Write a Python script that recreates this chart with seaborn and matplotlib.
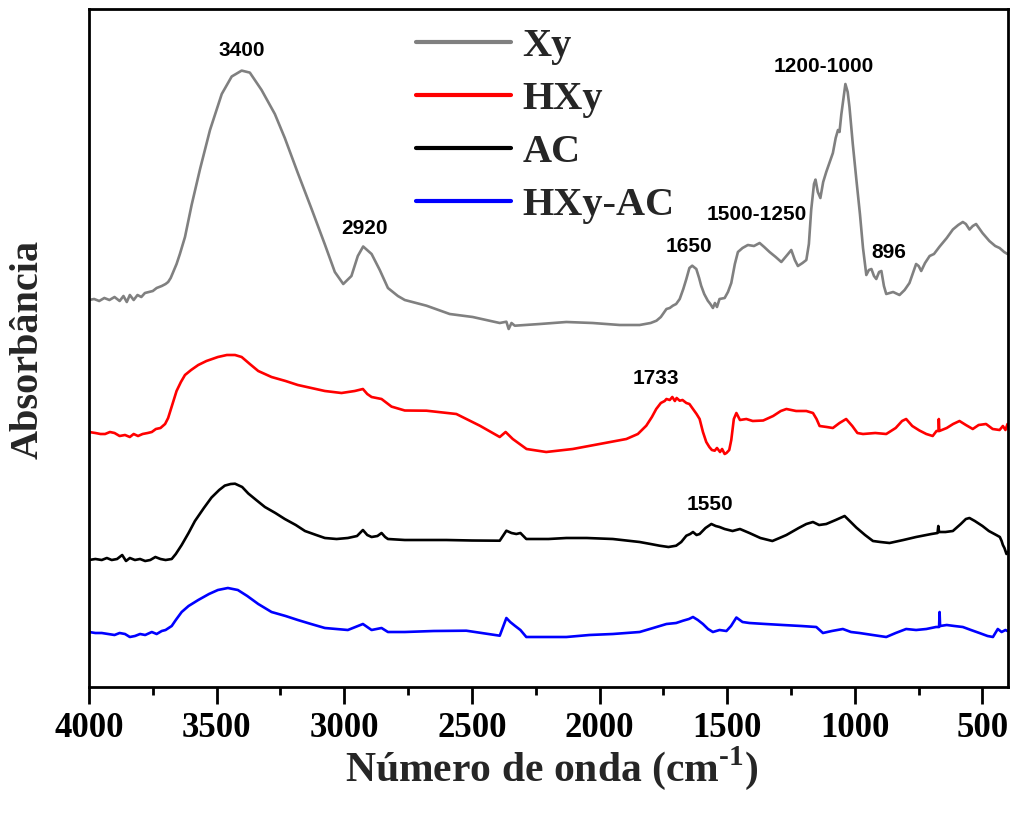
import matplotlib
matplotlib.use("Agg")
import matplotlib.pyplot as plt
from matplotlib.lines import Line2D
from matplotlib.ticker import MultipleLocator
import pandas as pd
import seaborn as sns

# ---------------------------------------------------------------------------
# FTIR spectra (wavenumber in cm-1, absorbance in arbitrary units)
# ---------------------------------------------------------------------------
SAMPLES = ["Xy", "HXy", "AC", "HXy-AC"]
COLORS = ["#808080", "#ff0000", "#000000", "#0000ff"]
# vertical offsets used to stack the spectra
OFFSETS = [3.53, 2.23, 1.23, 0.43]

XY_SPECTRUM = [
    (4000, .34), (3980, .35), (3960, .33), (3940, .36), (3920, .34), (3900, .37),
    (3880, .33), (3865, .38), (3852, .32), (3840, .39), (3825, .34), (3810, .39),
    (3795, .37), (3781, .41), (3765, .42), (3750, .43), (3735, .46), (3715, .48),
    (3700, .50), (3690, .52), (3680, .56), (3670, .62), (3657, .70), (3644, .80),
    (3624, .97), (3598, 1.29), (3565, 1.65), (3526, 2.04), (3480, 2.40), (3441, 2.575),
    (3402, 2.634), (3370, 2.614), (3324, 2.44), (3272, 2.20), (3233, 1.96), (3182, 1.61),
    (3128, 1.25), (3076, .895), (3037, .62), (3004, .50), (2972, .58), (2947, .78),
    (2926, .875), (2893, .80), (2861, .64), (2829, .46), (2790, .38), (2763, .34),
    (2678, .283), (2587, .20), (2497, .17), (2391, .11), (2365, .123), (2356, .05),
    (2345, .11), (2332, .083), (2234, .10), (2130, .12), (2027, .11), (1921, .09),
    (1843, .09), (1800, .11), (1777, .133), (1760, .17), (1738, .25), (1725, .26),
    (1713, .283), (1700, .30), (1686, .35), (1672, .45), (1660, .55), (1648, .66),
    (1637, .683), (1621, .65), (1610, .56), (1602, .483), (1590, .40), (1576, .333),
    (1566, .30), (1556, .26), (1548, .31), (1540, .27), (1530, .35), (1510, .36),
    (1497, .42), (1484, .51), (1470, .70), (1458, .82), (1440, .86), (1419, .89),
    (1395, .88), (1373, .91), (1355, .87), (1334, .82), (1310, .77), (1288, .72),
    (1265, .79), (1249, .84), (1235, .74), (1223, .68), (1205, .71), (1190, .74),
    (1180, .90), (1171, 1.24), (1160, 1.50), (1154, 1.544), (1145, 1.42), (1135, 1.36),
    (1124, 1.52), (1112, 1.62), (1086, 1.81), (1075, 1.96), (1066, 2.04), (1060, 2.02),
    (1053, 2.194), (1045, 2.35), (1037, 2.50), (1028, 2.42), (1021, 2.27), (1008, 1.90),
    (994, 1.544), (980, 1.20), (968, .86), (955, .59), (945, .64), (935, .65),
    (925, .58), (916, .55), (905, .62), (896, .63), (886, .48), (877, .40),
    (850, .42), (825, .39), (805, .44), (786, .51), (760, .70), (750, .68),
    (740, .63), (725, .71), (707, .78), (690, .80), (668, .874), (640, .96),
    (616, 1.045), (595, 1.09), (577, 1.12), (565, 1.10), (551, 1.045), (538, 1.08),
    (525, 1.10), (500, 1.01), (473, .93), (450, .88), (433, .86), (415, .82), (402, .80),
]

HXY_SPECTRUM = [
    (4000, .32), (3975, .31), (3955, .30), (3937, .30), (3918, .32), (3900, .31),
    (3880, .28), (3859, .29), (3840, .27), (3825, .30), (3808, .28), (3790, .30),
    (3770, .31), (3754, .32), (3738, .35), (3720, .36), (3702, .40), (3690, .46),
    (3676, .574), (3657, .73), (3640, .82), (3624, .89), (3600, .94), (3572, .99),
    (3540, 1.03), (3495, 1.07), (3460, 1.09), (3428, 1.09), (3402, 1.07), (3370, 1.00),
    (3337, .93), (3285, .87), (3230, .83), (3182, .79), (3130, .76), (3076, .73),
    (3011, .71), (2959, .73), (2927, .75), (2910, .70), (2893, .67), (2854, .65),
    (2815, .574), (2763, .535), (2678, .533), (2561, .50), (2469, .383), (2391, .27),
    (2368, .32), (2340, .25), (2286, .15), (2209, .12), (2105, .15), (2000, .20),
    (1895, .25), (1850, .30), (1817, .383), (1795, .47), (1778, .55), (1760, .61),
    (1745, .63), (1738, .65), (1725, .64), (1715, .67), (1705, .63), (1698, .66),
    (1686, .633), (1675, .64), (1660, .61), (1648, .60), (1634, .55), (1620, .50),
    (1608, .45), (1595, .32), (1582, .22), (1570, .17), (1560, .14), (1549, .133),
    (1540, .16), (1528, .12), (1520, .15), (1510, .10), (1503, .11), (1492, .14),
    (1484, .24), (1474, .45), (1464, .51), (1450, .44), (1425, .45), (1400, .43),
    (1359, .435), (1320, .48), (1290, .53), (1268, .55), (1230, .53), (1190, .53),
    (1164, .51), (1150, .45), (1138, .38), (1110, .37), (1086, .36), (1060, .41),
    (1034, .45), (1010, .38), (990, .31), (968, .30), (920, .31), (877, .30),
    (840, .36), (815, .43), (799, .45), (775, .38), (747, .335), (720, .30),
    (695, .28), (680, .33), (672, .33), (671, .45), (669, .33), (640, .36),
    (615, .40), (590, .43), (565, .39), (538, .35), (515, .39), (486, .40),
    (460, .35), (433, .34), (420, .38), (410, .34), (402, .40),
]

AC_SPECTRUM = [
    (4000, .04), (3975, .05), (3950, .04), (3930, .06), (3911, .04), (3890, .05),
    (3870, .09), (3855, .03), (3840, .06), (3820, .04), (3800, .05), (3780, .03),
    (3760, .04), (3740, .07), (3720, .05), (3700, .04), (3676, .05), (3660, .10),
    (3637, .19), (3610, .31), (3585, .43), (3550, .56), (3520, .665), (3490, .74),
    (3468, .784), (3445, .80), (3428, .803), (3400, .77), (3376, .705), (3345, .64),
    (3311, .57), (3270, .51), (3233, .45), (3190, .39), (3154, .33), (3110, .29),
    (3076, .26), (3030, .25), (2986, .26), (2950, .28), (2927, .34), (2910, .29),
    (2893, .27), (2870, .28), (2854, .31), (2840, .27), (2829, .25), (2763, .24),
    (2600, .24), (2500, .235), (2391, .233), (2365, .333), (2345, .31), (2326, .30),
    (2310, .31), (2287, .25), (2200, .25), (2130, .26), (2050, .26), (1948, .25),
    (1843, .22), (1800, .20), (1765, .183), (1730, .17), (1700, .183), (1680, .22),
    (1660, .283), (1645, .30), (1634, .32), (1620, .29), (1608, .30), (1585, .36),
    (1562, .40), (1545, .38), (1530, .37), (1510, .35), (1479, .33), (1450, .35),
    (1413, .31), (1370, .26), (1323, .23), (1295, .26), (1268, .29), (1220, .36),
    (1190, .40), (1164, .42), (1140, .39), (1112, .40), (1075, .44), (1040, .48),
    (1020, .43), (994, .364), (960, .29), (929, .23), (900, .22), (864, .21),
    (810, .24), (760, .27), (700, .30), (676, .31), (673, .38), (670, .32),
    (645, .32), (616, .33), (585, .40), (565, .45), (551, .46), (530, .43),
    (500, .38), (475, .33), (446, .29), (432, .27), (425, .23), (420, .19),
    (414, .16), (406, .10), (402, .12),
]

HXYAC_SPECTRUM = [
    (4000, .12), (3975, .11), (3950, .11), (3925, .10), (3900, .09), (3880, .11),
    (3859, .10), (3840, .07), (3820, .08), (3800, .10), (3780, .09), (3754, .12),
    (3735, .10), (3715, .13), (3700, .14), (3676, .18), (3660, .24), (3637, .32),
    (3610, .38), (3572, .44), (3530, .50), (3495, .54), (3456, .56), (3417, .54),
    (3380, .48), (3337, .40), (3285, .32), (3230, .28), (3182, .24), (3130, .20),
    (3076, .16), (2986, .14), (2927, .20), (2893, .14), (2854, .16), (2829, .12),
    (2763, .12), (2650, .13), (2522, .133), (2391, .083), (2365, .26), (2350, .22),
    (2332, .183), (2310, .14), (2287, .07), (2200, .07), (2130, .07), (2040, .09),
    (1948, .10), (1843, .12), (1790, .16), (1738, .20), (1700, .21), (1673, .233),
    (1650, .25), (1634, .27), (1615, .24), (1595, .20), (1575, .15), (1556, .12),
    (1530, .14), (1503, .13), (1485, .18), (1464, .265), (1440, .22), (1413, .21),
    (1350, .20), (1282, .19), (1210, .18), (1151, .17), (1125, .11), (1090, .13),
    (1047, .15), (1015, .12), (982, .11), (930, .09), (877, .07), (840, .11),
    (799, .15), (760, .14), (720, .15), (682, .17), (670, .17), (668, .32),
    (666, .18), (640, .19), (610, .18), (577, .17), (545, .14), (512, .11),
    (480, .08), (459, .07), (440, .15), (425, .12), (410, .14), (402, .13),
]

SPECTRA = [XY_SPECTRUM, HXY_SPECTRUM, AC_SPECTRUM, HXYAC_SPECTRUM]

# band assignments: text, wavenumber, height on the stacked scale
BAND_LABELS = ["3400", "2920", "1650", "1500-1250", "1200-1000", "896", "1733", "1550"]
BAND_WN = [3400, 2920, 1650, 1385, 1122, 868, 1780, 1569]
BAND_Y = [6.37, 4.58, 4.41, 4.72, 6.21, 4.35, 3.09, 1.82]

XTICKS = [4000, 3500, 3000, 2500, 2000, 1500, 1000, 500]

# ---------------------------------------------------------------------------
rows = []
for name, spectrum, off in zip(SAMPLES, SPECTRA, OFFSETS):
    for wn, a in spectrum:
        rows.append({"amostra": name, "wn": wn, "abs": a + off})
df = pd.DataFrame(rows)

sns.set_theme(style="white")
plt.rcParams["font.family"] = ["Liberation Serif", "DejaVu Serif"]
plt.rcParams["font.weight"] = "bold"
plt.rcParams["mathtext.fontset"] = "custom"
plt.rcParams["mathtext.rm"] = "Liberation Serif:bold"
plt.rcParams["mathtext.bf"] = "Liberation Serif:bold"

fig = plt.figure(figsize=(10.14, 8.14), dpi=100)
fig.patch.set_facecolor("white")
ax = fig.add_axes([89 / 1014, 1 - 687 / 814, 919 / 1014, 678 / 814])

sns.lineplot(data=df, x="wn", y="abs", hue="amostra", hue_order=SAMPLES,
             palette=COLORS, estimator=None, linewidth=1.9, legend=False, ax=ax)

ax.set_xlim(4000, 400)
ax.set_ylim(0, 6.78)
ax.set_xticks(XTICKS)
ax.set_xticklabels([str(t) for t in XTICKS])
ax.xaxis.set_minor_locator(MultipleLocator(250))
ax.set_yticks([])
ax.set_xlabel("")
ax.set_ylabel("")
ax.tick_params(axis="x", which="major", bottom=True, direction="out", length=12,
               width=2, labelsize=25, pad=6, color="black", labelcolor="black")
ax.tick_params(axis="x", which="minor", bottom=True, direction="out", length=6,
               width=2, color="black")
for lbl in ax.get_xticklabels():
    lbl.set_fontweight("bold")
for sp in ax.spines.values():
    sp.set_visible(True)
    sp.set_linewidth(2)
    sp.set_color("black")

for txt, wn, y in zip(BAND_LABELS, BAND_WN, BAND_Y):
    ax.text(wn, y, txt, ha="center", va="center", fontsize=15, fontweight="bold",
            family=["Liberation Sans", "DejaVu Sans"], color="black")

handles = [Line2D([], [], color=c, lw=3) for c in COLORS]
ax.legend(handles, SAMPLES, loc="upper left",
          bbox_to_anchor=(416 / 1014, 1 - 28 / 814), bbox_transform=fig.transFigure,
          frameon=False, prop={"family": "Liberation Serif", "weight": "bold", "size": 29},
          handlelength=2.37, handletextpad=0.27, labelspacing=0.39,
          borderpad=0, borderaxespad=0)

fig.text(552 / 1014, 1 - 768 / 814, r"Número de onda (cm$^{\text{-1}}$)",
         ha="center", va="center", fontsize=30, fontweight="bold")
fig.text(28 / 1014, 1 - 349 / 814, "Absorbância", rotation=90,
         ha="center", va="center", fontsize=29, fontweight="bold")

fig.savefig("out.png", dpi=100, facecolor="white")
